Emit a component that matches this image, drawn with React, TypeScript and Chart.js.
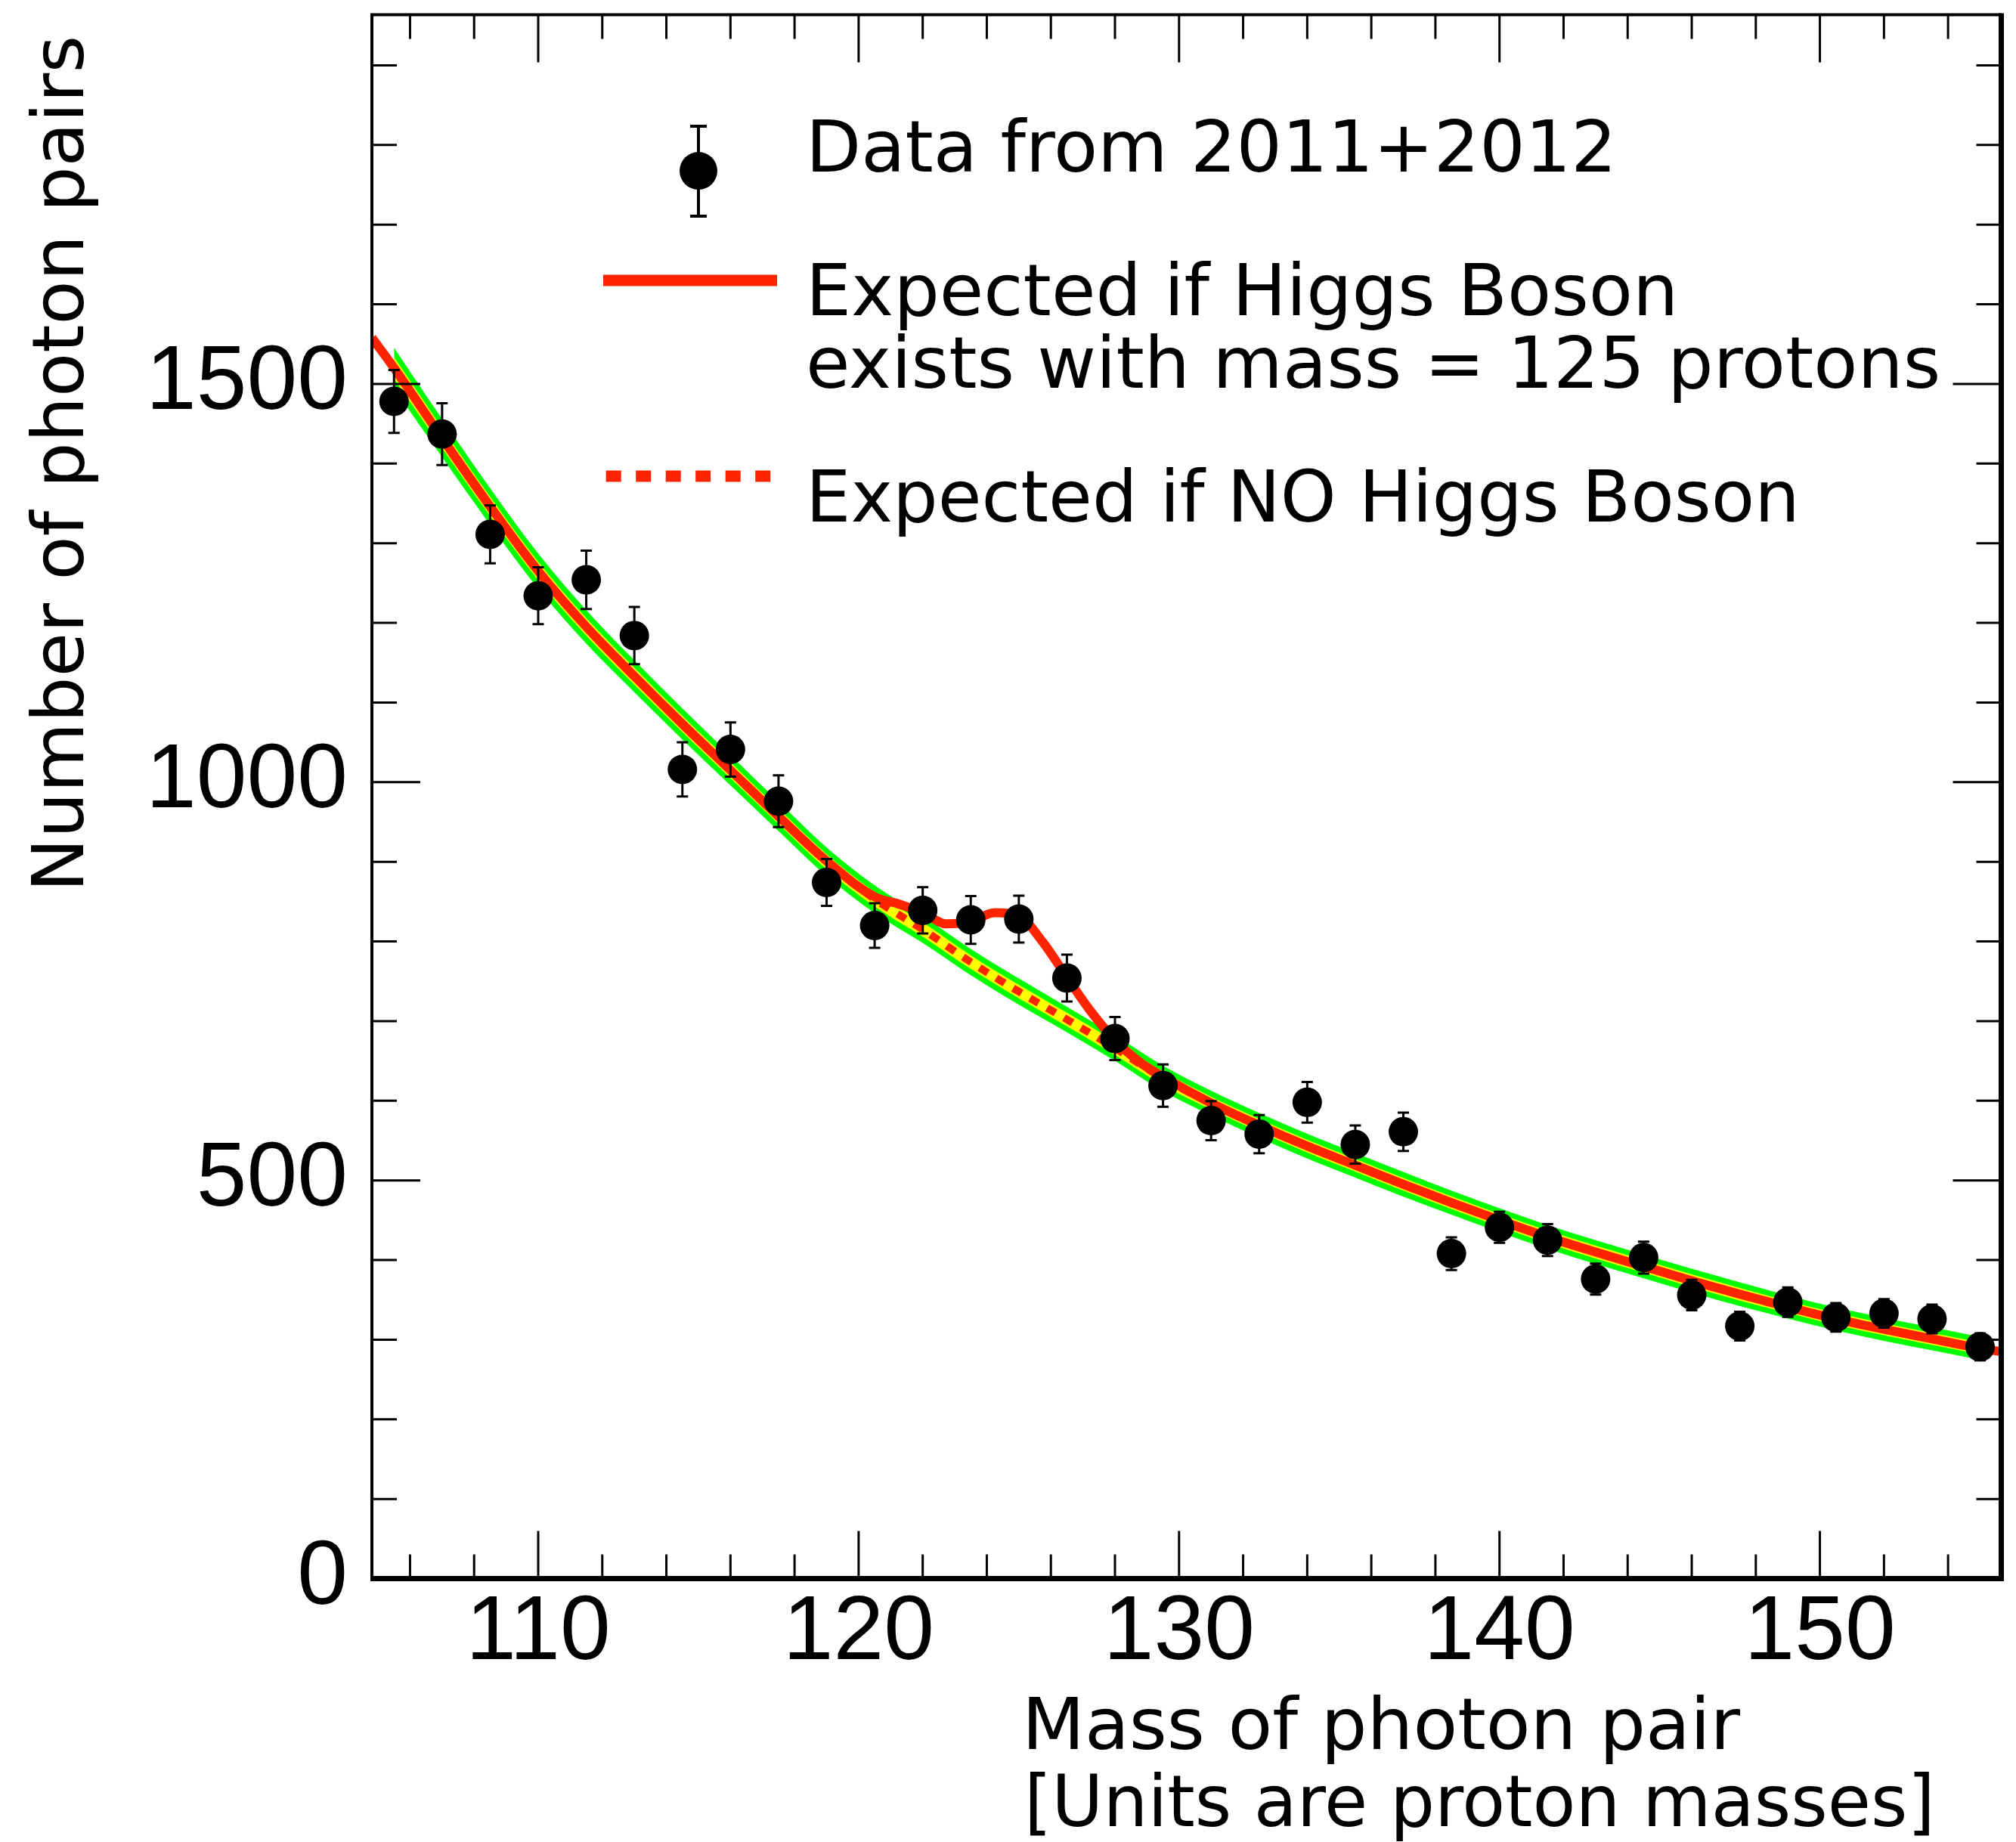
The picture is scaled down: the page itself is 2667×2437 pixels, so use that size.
import React, { useEffect, useRef } from "react";
import { Chart, registerables } from "chart.js";

Chart.register(...registerables);

const W = 2667;
const H = 2437;

// ---- data ----
const massBins = [105.5, 107, 108.5, 110, 111.5, 113, 114.5, 116, 117.5, 119, 120.5, 122, 123.5, 125, 126.5, 128, 129.5, 131, 132.5, 134, 135.5, 137, 138.5, 140, 141.5, 143, 144.5, 146, 147.5, 149, 150.5, 152, 153.5, 155];
const photonPairs = [1478, 1437, 1311, 1234, 1254, 1184, 1016, 1041, 976, 874, 820, 839, 827, 828, 754, 678, 619, 575, 558, 598, 545, 561, 408, 441, 425, 376, 403, 356, 317, 347, 328, 333, 326, 291];
const photonPairErrors = [39.5, 38.8, 36.3, 35.7, 36.7, 36, 34, 34, 32.5, 29.5, 28, 29, 30, 29.5, 29.5, 27, 26.5, 24.5, 24, 25.5, 24, 24, 20.5, 19.5, 20, 19.5, 20, 19, 18, 18.5, 18, 18, 18, 17];

// background-only expectation (dashed) and its bands, same mass points as the data
const noHiggsCounts = [1520, 1432, 1346, 1265, 1195, 1133, 1073, 1015, 957, 900, 853, 815, 774, 737, 702, 666, 628, 597, 569, 543, 519, 495, 472, 450, 429, 410, 392, 374, 357, 341, 326, 313, 301, 289];
const band2SigmaHalf = [25.5, 24, 23, 22, 21, 20, 19.5, 19, 18.5, 18, 17.5, 17, 16.5, 16.5, 16, 16, 16, 15.5, 15.5, 15.5, 15.5, 15.5, 15, 15, 15, 15, 15, 15, 15, 14.5, 14.5, 14.5, 14.5, 14.5];
const band1SigmaHalf = [13.5, 12.5, 12, 11.5, 11, 10.5, 10, 10, 9.5, 9.5, 9, 9, 8.5, 8.5, 8.5, 8.5, 8.5, 8, 8, 8, 8, 8, 8, 8, 8, 8, 8, 8, 8, 7.5, 7.5, 7.5, 7.5, 7.5];

// signal + background expectation (solid red)
const higgsMass = [104.81, 105.5, 107, 108.5, 110, 111.5, 113, 114.5, 116, 117.5, 119, 120.5, 121.25, 122, 122.75, 123.5, 124.25, 125, 125.75, 126.5, 127.25, 128, 128.75, 129.5, 131, 132.5, 134, 135.5, 137, 138.5, 140, 141.5, 143, 144.5, 146, 147.5, 149, 150.5, 152, 153.5, 155, 155.66];
const higgsCounts = [1558, 1520, 1432, 1346, 1265, 1195, 1133, 1073, 1015, 957, 901, 856, 847, 836, 822, 825, 836, 832, 799, 755, 712, 676, 649, 630, 597, 569, 543, 519, 495, 472, 450, 429, 410, 392, 374, 357, 341, 326, 313, 301, 289, 285];

const xTickLabels = [110, 120, 130, 140, 150];
const yTickLabels = [0, 500, 1000, 1500];

const X_MIN = 104.81;
const X_MAX = 155.66;
const Y_MIN = 0;
const Y_MAX = 1963.5;

const RED = "rgb(255,36,0)";
const GREEN = "rgb(0,255,0)";
const YELLOW = "rgb(255,255,0)";
const TEXT_FONT = '94px "DejaVu Sans"';
const TEXT_STRETCH = 1.012;

const pts = (xs: number[], ys: number[]) => xs.map((x, i) => ({ x, y: ys[i] }));

const errorBarPlugin = {
  id: "errorBars",
  beforeDatasetDraw(chart: any, args: any) {
    if (args.index !== 0) return;
    const { ctx, scales } = chart;
    const xs = scales.x;
    const ys = scales.y;
    ctx.save();
    ctx.strokeStyle = "#000";
    ctx.lineWidth = 3;
    massBins.forEach((m, i) => {
      const px = xs.getPixelForValue(m);
      const top = ys.getPixelForValue(photonPairs[i] + photonPairErrors[i]);
      const bot = ys.getPixelForValue(photonPairs[i] - photonPairErrors[i]);
      ctx.beginPath();
      ctx.moveTo(px, top);
      ctx.lineTo(px, bot);
      ctx.moveTo(px - 7.5, top);
      ctx.lineTo(px + 7.5, top);
      ctx.moveTo(px - 7.5, bot);
      ctx.lineTo(px + 7.5, bot);
      ctx.stroke();
    });
    ctx.restore();
  },
};

const framePlugin = {
  id: "frameTicks",
  afterDatasetsDraw(chart: any) {
    const { ctx, chartArea: a, scales } = chart;
    const xs = scales.x;
    const ys = scales.y;
    ctx.save();
    ctx.strokeStyle = "#000";
    ctx.lineWidth = 3;
    ctx.beginPath();
    for (let v = 106; v <= 154; v += 2) {
      const px = xs.getPixelForValue(v);
      const len = v % 10 === 0 ? 63 : 32;
      ctx.moveTo(px, a.bottom);
      ctx.lineTo(px, a.bottom - len);
      ctx.moveTo(px, a.top);
      ctx.lineTo(px, a.top + len);
    }
    for (let v = 100; v <= 1900; v += 100) {
      const py = ys.getPixelForValue(v);
      const len = v % 500 === 0 ? 64 : 33;
      ctx.moveTo(a.left, py);
      ctx.lineTo(a.left + len, py);
      ctx.moveTo(a.right, py);
      ctx.lineTo(a.right - len, py);
    }
    ctx.stroke();
    // frame
    ctx.lineWidth = 4;
    ctx.beginPath();
    ctx.moveTo(a.left, a.bottom);
    ctx.lineTo(a.left, a.top);
    ctx.lineTo(a.right, a.top);
    ctx.stroke();
    ctx.lineWidth = 7;
    ctx.beginPath();
    ctx.moveTo(a.left - 2, a.bottom);
    ctx.lineTo(a.right, a.bottom);
    ctx.lineTo(a.right, a.top - 2);
    ctx.stroke();
    ctx.restore();
  },
};

function stretchedText(ctx: any, text: string, x: number, y: number, stretch = TEXT_STRETCH) {
  ctx.save();
  ctx.translate(x, y);
  ctx.scale(stretch, 1);
  ctx.fillText(text, 0, 0);
  ctx.restore();
}

const textPlugin = {
  id: "legendAndTitles",
  afterDraw(chart: any) {
    const { ctx } = chart;
    ctx.save();
    // legend: data marker with error bar
    ctx.strokeStyle = "#000";
    ctx.lineWidth = 4;
    ctx.beginPath();
    ctx.moveTo(924, 167);
    ctx.lineTo(924, 286);
    ctx.moveTo(913, 167);
    ctx.lineTo(935, 167);
    ctx.moveTo(913, 286);
    ctx.lineTo(935, 286);
    ctx.stroke();
    ctx.fillStyle = "#000";
    ctx.beginPath();
    ctx.arc(924, 226, 25, 0, Math.PI * 2);
    ctx.fill();
    // legend: solid red
    ctx.strokeStyle = RED;
    ctx.lineWidth = 15;
    ctx.lineCap = "butt";
    ctx.beginPath();
    ctx.moveTo(798, 371);
    ctx.lineTo(1028, 371);
    ctx.stroke();
    // legend: dashed red
    ctx.setLineDash([20, 19.5]);
    ctx.beginPath();
    ctx.moveTo(801.7, 630);
    ctx.lineTo(1020, 630);
    ctx.stroke();
    ctx.setLineDash([]);

    ctx.fillStyle = "#000";
    ctx.font = TEXT_FONT;
    ctx.textAlign = "left";
    ctx.textBaseline = "alphabetic";
    stretchedText(ctx, "Data from 2011+2012", 1066, 227);
    stretchedText(ctx, "Expected if Higgs Boson", 1066, 417);
    stretchedText(ctx, "exists with mass = 125 protons", 1066, 513);
    stretchedText(ctx, "Expected if NO Higgs Boson", 1066, 690, 1.0);

    // x-axis title
    stretchedText(ctx, "Mass of photon pair", 1352, 2314, 1.022);
    stretchedText(ctx, "[Units are proton masses]", 1355, 2416, 0.99);

    // y-axis title
    ctx.save();
    ctx.translate(110, 1180);
    ctx.rotate(-Math.PI / 2);
    ctx.scale(TEXT_STRETCH, 1);
    ctx.fillText("Number of photon pairs", 0, 0);
    ctx.restore();

    ctx.restore();
  },
};

export default function App() {
  const canvasRef = useRef<HTMLCanvasElement | null>(null);

  useEffect(() => {
    document.body.style.margin = "0";
    document.body.style.overflow = "hidden";
    const canvas = canvasRef.current;
    if (!canvas) return;

    const bkgPts = pts(massBins, noHiggsCounts);
    const g2Lo = pts(massBins, noHiggsCounts.map((v, i) => v - band2SigmaHalf[i]));
    const g2Hi = pts(massBins, noHiggsCounts.map((v, i) => v + band2SigmaHalf[i]));
    const y1Lo = pts(massBins, noHiggsCounts.map((v, i) => v - band1SigmaHalf[i]));
    const y1Hi = pts(massBins, noHiggsCounts.map((v, i) => v + band1SigmaHalf[i]));

    const lineBase = {
      type: "line" as const,
      pointRadius: 0,
      cubicInterpolationMode: "monotone" as const,
    };

    const chart = new Chart(canvas, {
      type: "line",
      data: {
        datasets: [
          {
            type: "line",
            label: "Data from 2011+2012",
            data: pts(massBins, photonPairs),
            showLine: false,
            pointRadius: 19.5,
            pointHoverRadius: 19.5,
            pointStyle: "circle",
            pointBackgroundColor: "#000",
            pointBorderWidth: 0,
            borderWidth: 0,
            order: 0,
          },
          {
            ...lineBase,
            label: "Expected if Higgs Boson exists with mass = 125 protons",
            data: pts(higgsMass, higgsCounts),
            borderColor: RED,
            borderWidth: 12,
            fill: false,
            order: 1,
          },
          {
            ...lineBase,
            label: "Expected if NO Higgs Boson",
            data: bkgPts,
            borderColor: RED,
            borderWidth: 10,
            borderDash: [13, 13],
            fill: false,
            order: 2,
          },
          {
            ...lineBase,
            label: "1 sigma low",
            data: y1Lo,
            borderWidth: 0,
            borderColor: "rgba(0,0,0,0)",
            fill: false,
            order: 3,
          },
          {
            ...lineBase,
            label: "1 sigma high",
            data: y1Hi,
            borderWidth: 0,
            borderColor: "rgba(0,0,0,0)",
            backgroundColor: YELLOW,
            fill: "-1",
            order: 3,
          },
          {
            ...lineBase,
            label: "2 sigma low",
            data: g2Lo,
            borderWidth: 0,
            borderColor: "rgba(0,0,0,0)",
            fill: false,
            order: 5,
          },
          {
            ...lineBase,
            label: "2 sigma high",
            data: g2Hi,
            borderWidth: 0,
            borderColor: "rgba(0,0,0,0)",
            backgroundColor: GREEN,
            fill: "-1",
            order: 5,
          },
        ] as any,
      },
      options: {
        responsive: false,
        animation: false,
        devicePixelRatio: 1,
        events: [],
        layout: { padding: { left: 0, right: 9, top: 17, bottom: 0 } },
        plugins: {
          legend: { display: false },
          tooltip: { enabled: false },
          title: { display: false },
        },
        scales: {
          x: {
            type: "linear",
            min: X_MIN,
            max: X_MAX,
            grid: { display: false, drawTicks: false },
            border: { display: false },
            ticks: {
              font: { family: '"Liberation Sans", Arial, sans-serif', size: 120, lineHeight: 1.2 },
              color: "#000",
              padding: 1,
              maxRotation: 0,
              autoSkip: false,
              includeBounds: false,
              callback: (v: any) => String(v),
            },
            afterBuildTicks: (s: any) => {
              s.ticks = xTickLabels.map((v) => ({ value: v }));
            },
            afterFit: (s: any) => {
              s.height = H - 2088.5;
              s.paddingLeft = 0;
              s.paddingRight = 0;
              s.paddingTop = 0;
              s.paddingBottom = 0;
            },
          },
          y: {
            type: "linear",
            min: Y_MIN,
            max: Y_MAX,
            grid: { display: false, drawTicks: false },
            border: { display: false },
            ticks: {
              font: { family: '"Liberation Sans", Arial, sans-serif', size: 120 },
              color: "#000",
              padding: 32,
              autoSkip: false,
              includeBounds: false,
              callback: (v: any) => String(v),
            },
            afterBuildTicks: (s: any) => {
              s.ticks = yTickLabels.map((v) => ({ value: v }));
            },
            afterFit: (s: any) => {
              s.width = 492;
              s.paddingLeft = 0;
              s.paddingRight = 0;
              s.paddingTop = 0;
              s.paddingBottom = 0;
            },
          },
        },
      } as any,
      plugins: [errorBarPlugin, framePlugin, textPlugin],
    });

    return () => {
      chart.destroy();
    };
  }, []);

  return (
    <div style={{ position: "fixed", left: 0, top: 0, width: W, height: H, background: "#fff" }}>
      <canvas ref={canvasRef} width={W} height={H} style={{ width: W, height: H, display: "block" }} />
    </div>
  );
}
